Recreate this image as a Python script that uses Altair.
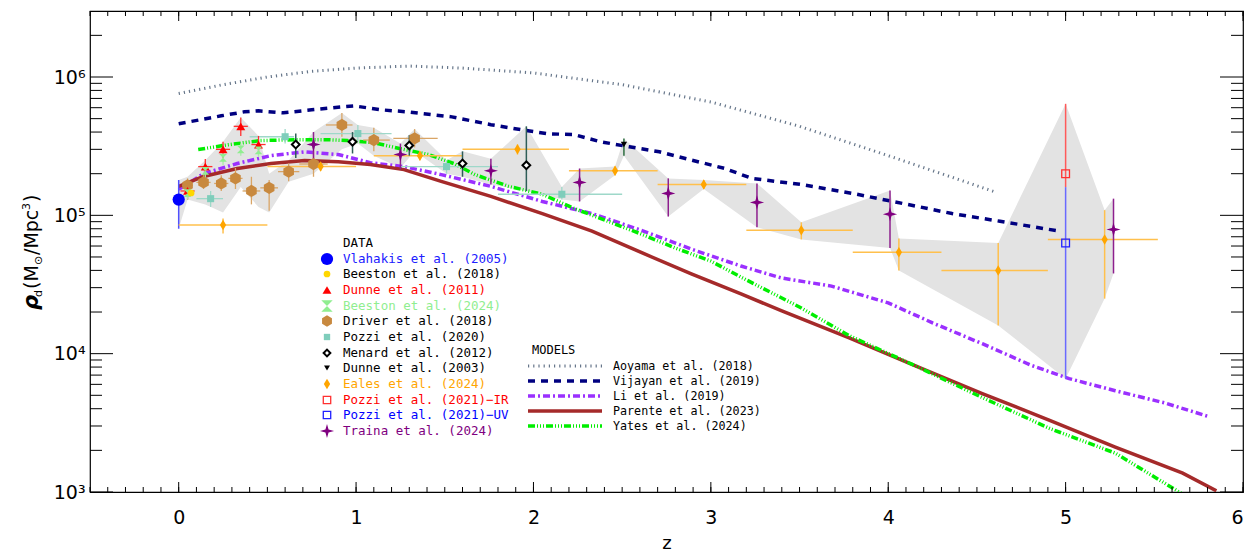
import altair as alt
import pandas as pd

# ----------------------------- model curves -----------------------------
aoyama_z   = [0.0, 0.25, 0.5, 0.75, 1.0, 1.3, 1.6, 2.0, 2.5, 3.0, 3.5, 4.0, 4.3, 4.6]
aoyama_rho = [7.6e5, 8.8e5, 1.0e6, 1.1e6, 1.16e6, 1.2e6, 1.16e6, 1.07e6, 8.8e5, 6.6e5, 4.4e5, 2.7e5, 2.0e5, 1.48e5]

vijayan_z   = [0.0, 0.24, 0.37, 0.45, 0.59, 0.75, 0.92, 0.99, 1.14, 1.29, 1.54, 1.76, 1.93, 2.08,
               2.23, 2.38, 2.54, 2.71, 2.88, 3.08, 3.23, 3.51, 3.80, 4.08, 4.36, 4.63, 4.97]
vijayan_rho = [4.59e5, 5.24e5, 5.6e5, 5.69e5, 5.51e5, 5.79e5, 6.08e5, 6.18e5, 5.79e5, 5.6e5, 5.15e5,
               4.52e5, 4.16e5, 3.89e5, 3.83e5, 3.4e5, 3.13e5, 2.88e5, 2.53e5, 2.18e5, 1.85e5, 1.67e5,
               1.44e5, 1.22e5, 1.03e5, 9.06e4, 7.67e4]

li_z   = [0.0, 0.14, 0.33, 0.52, 0.71, 0.90, 1.08, 1.27, 1.48, 1.76, 2.05, 2.33, 2.62, 2.89, 3.17,
          3.40, 3.68, 4.00, 4.25, 4.53, 4.81, 5.02, 5.28, 5.56, 5.81]
li_rho = [1.54e5, 2.0e5, 2.37e5, 2.7e5, 2.88e5, 2.75e5, 2.4e5, 2.25e5, 1.97e5, 1.62e5, 1.26e5,
          1.03e5, 7.7e4, 5.7e4, 4.3e4, 3.52e4, 3.08e4, 2.33e4, 1.67e4, 1.18e4, 8.2e3, 6.6e3,
          5.4e3, 4.4e3, 3.5e3]

parente_z   = [0.0, 0.14, 0.33, 0.52, 0.71, 0.90, 1.08, 1.27, 1.48, 1.76, 2.05, 2.33, 2.62, 2.89,
               3.17, 3.40, 3.78, 4.15, 4.53, 4.91, 5.28, 5.66, 5.85]
parente_rho = [1.62e5, 1.91e5, 2.18e5, 2.37e5, 2.49e5, 2.44e5, 2.33e5, 2.14e5, 1.76e5, 1.37e5,
               1.03e5, 7.7e4, 5.3e4, 3.77e4, 2.7e4, 2.04e4, 1.3e4, 8.2e3, 5.15e3, 3.3e3, 2.11e3,
               1.37e3, 1.02e3]

yates_z   = [0.11, 0.28, 0.46, 0.65, 0.84, 0.95, 1.10, 1.25, 1.41, 1.55, 1.67, 1.86, 2.05, 2.23,
             2.42, 2.61, 2.80, 3.0, 3.18, 3.51, 3.78, 4.15, 4.53, 4.91, 5.28, 5.64, 5.70]
yates_rho = [2.99e5, 3.24e5, 3.47e5, 3.52e5, 3.52e5, 3.47e5, 3.35e5, 3.03e5, 2.75e5, 2.37e5,
             1.97e5, 1.62e5, 1.42e5, 1.12e5, 9.06e4, 7.3e4, 5.8e4, 4.67e4, 3.52e4, 2.14e4,
             1.35e4, 8.2e3, 4.82e3, 2.88e3, 1.91e3, 1.0e3, 9.0e2]

# ----------------------------- observations -----------------------------
vlahakis_z, vlahakis_rho, vlahakis_lo, vlahakis_hi = [0.0], [1.30e5], [8.0e4], [1.8e5]

beeston18_z, beeston18_rho = [0.07], [1.45e5]

dunne11_z   = [0.05, 0.15, 0.25, 0.35, 0.45]
dunne11_rho = [1.5e5, 2.25e5, 3.0e5, 4.4e5, 3.25e5]
dunne11_lo  = [1.3e5, 1.95e5, 2.6e5, 3.75e5, 2.8e5]
dunne11_hi  = [1.7e5, 2.55e5, 3.4e5, 5.1e5, 3.75e5]
dunne11_zlo = [0.01, 0.11, 0.21, 0.31, 0.41]
dunne11_zhi = [0.09, 0.19, 0.29, 0.39, 0.49]

beeston24_z   = [0.05, 0.15, 0.25, 0.35, 0.45]
beeston24_rho = [1.45e5, 2.1e5, 2.6e5, 3.0e5, 2.95e5]
beeston24_lo  = [1.3e5, 1.85e5, 2.3e5, 2.7e5, 2.65e5]
beeston24_hi  = [1.6e5, 2.35e5, 2.9e5, 3.3e5, 3.25e5]

driver_z   = [0.05, 0.14, 0.24, 0.32, 0.41, 0.51, 0.62, 0.76, 0.92, 1.10, 1.33]
driver_rho = [1.65e5, 1.73e5, 1.70e5, 1.85e5, 1.50e5, 1.58e5, 2.07e5, 2.35e5, 4.5e5, 3.5e5, 3.6e5]
driver_lo  = [1.5e5, 1.55e5, 1.5e5, 1.55e5, 1.2e5, 1.08e5, 1.76e5, 1.9e5, 3.7e5, 2.9e5, 3.1e5]
driver_hi  = [1.85e5, 1.95e5, 1.95e5, 2.2e5, 1.9e5, 1.8e5, 2.37e5, 2.9e5, 5.5e5, 4.3e5, 4.2e5]
driver_zlo = [0.02, 0.10, 0.20, 0.28, 0.36, 0.46, 0.56, 0.68, 0.83, 1.04, 1.21]
driver_zhi = [0.08, 0.18, 0.28, 0.36, 0.46, 0.56, 0.68, 0.84, 0.98, 1.19, 1.46]

pozzi20_z   = [0.18, 0.60, 1.01, 1.51, 2.16]
pozzi20_rho = [1.32e5, 3.7e5, 3.9e5, 2.25e5, 1.42e5]
pozzi20_lo  = [1.15e5, 3.3e5, 3.4e5, 2.0e5, 1.3e5]
pozzi20_hi  = [1.5e5, 4.2e5, 4.5e5, 2.5e5, 1.6e5]
pozzi20_zlo = [0.10, 0.40, 0.80, 1.25, 1.80]
pozzi20_zhi = [0.25, 0.65, 1.20, 1.80, 2.50]

menard_z   = [0.66, 0.98, 1.30, 1.60, 1.96]
menard_rho = [3.25e5, 3.4e5, 3.2e5, 2.37e5, 2.3e5]
menard_lo  = [2.6e5, 2.8e5, 2.7e5, 1.9e5, 1.5e5]
menard_hi  = [3.9e5, 4.0e5, 3.8e5, 2.9e5, 4.4e5]

dunne03_z, dunne03_rho, dunne03_lo, dunne03_hi = [2.51], [3.25e5], [2.7e5], [3.6e5]

eales_z   = [0.25, 0.80, 1.36, 1.91, 2.46, 2.96, 3.51, 4.06, 4.62, 5.22]
eales_rho = [8.5e4, 2.25e5, 2.7e5, 3.0e5, 2.1e5, 1.67e5, 7.8e4, 5.4e4, 4.0e4, 6.7e4]
eales_lo  = [7.4e4, 2.1e5, 2.5e5, 2.75e5, 1.95e5, 1.55e5, 6.7e4, 4.0e4, 1.6e4, 2.5e4]
eales_hi  = [9.5e4, 2.4e5, 2.9e5, 3.25e5, 2.25e5, 1.8e5, 8.9e4, 6.8e4, 6.3e4, 1.09e5]
eales_zlo = [0.0, 0.5, 1.1, 1.6, 2.2, 2.7, 3.2, 3.8, 4.3, 4.9]
eales_zhi = [0.5, 1.0, 1.6, 2.2, 2.7, 3.2, 3.8, 4.3, 4.9, 5.52]

pozzi21ir_z, pozzi21ir_rho, pozzi21ir_lo, pozzi21ir_hi = [5.0], [2.0e5], [1.6e5], [6.4e5]
pozzi21uv_z, pozzi21uv_rho, pozzi21uv_lo, pozzi21uv_hi = [5.0], [6.3e4], [6.6e3], [1.6e5]

traina_z   = [0.76, 1.25, 1.76, 2.26, 2.76, 3.26, 4.01, 5.27]
traina_rho = [3.25e5, 2.75e5, 2.1e5, 1.73e5, 1.44e5, 1.24e5, 1.02e5, 7.9e4]
traina_lo  = [2.5e5, 2.15e5, 1.67e5, 1.26e5, 9.8e4, 8.2e4, 5.8e4, 3.8e4]
traina_hi  = [4.0e5, 3.3e5, 2.57e5, 2.18e5, 1.85e5, 1.7e5, 1.51e5, 1.32e5]

# grey envelope of the observations
band_z  = [0.00, 0.05, 0.15, 0.25, 0.35, 0.45, 0.51, 0.62, 0.76, 0.92, 1.01, 1.10, 1.25, 1.33,
           1.51, 1.60, 1.76, 1.96, 2.16, 2.26, 2.46, 2.51, 2.76, 2.96, 3.26, 3.51, 4.01, 4.06,
           4.62, 5.00, 5.22, 5.27]
band_lo = [8.0e4, 1.3e5, 1.2e5, 1.05e5, 1.6e5, 1.15e5, 1.05e5, 1.75e5, 2.0e5, 3.0e5, 3.3e5,
           2.7e5, 2.2e5, 2.9e5, 2.0e5, 1.9e5, 1.67e5, 1.5e5, 1.3e5, 1.26e5, 1.95e5, 2.7e5,
           9.8e4, 1.55e5, 8.2e4, 6.7e4, 5.8e4, 4.0e4, 1.6e4, 6.6e3, 2.5e4, 3.8e4]
band_hi = [1.8e5, 1.9e5, 2.5e5, 3.4e5, 5.1e5, 3.75e5, 2.0e5, 2.5e5, 4.0e5, 5.5e5, 4.5e5,
           4.3e5, 3.3e5, 4.2e5, 2.5e5, 2.9e5, 2.57e5, 4.4e5, 1.6e5, 2.18e5, 2.25e5, 3.6e5,
           1.85e5, 1.8e5, 1.7e5, 8.9e4, 1.51e5, 6.8e4, 6.3e4, 6.4e5, 1.09e5, 1.32e5]

# axis ticks
x_major = [0, 1, 2, 3, 4, 5, 6]
x_minor = [round(-0.5 + 0.1 * i, 1) for i in range(66)]
y_major = [1e3, 1e4, 1e5, 1e6]
y_minor = [m * 10 ** k for k in (3, 4, 5) for m in range(2, 10)] + [2e6]

data_labels = ["Vlahakis et al. (2005)", "Beeston et al. (2018)", "Dunne et al. (2011)",
               "Beeston et al. (2024)", "Driver et al. (2018)", "Pozzi et al. (2020)",
               "Menard et al. (2012)", "Dunne et al. (2003)", "Eales et al. (2024)",
               "Pozzi et al. (2021)\u2212IR", "Pozzi et al. (2021)\u2212UV", "Traina et al. (2024)"]
model_labels = ["Aoyama et al. (2018)", "Vijayan et al. (2019)", "Li et al. (2019)",
                "Parente et al. (2023)", "Yates et al. (2024)"]

# y-axis title pieces: (text, size, bold-italic, shift across baseline, advance)
ytitle_parts = [("\u03c1", 21, True, 0, 13), ("d", 11, False, 4, 8), ("(M", 19, False, 0, 24),
                ("\u2299", 11, False, 4, 10), ("/Mpc", 19, False, 0, 45),
                ("3", 11, False, -8, 8), (")", 19, False, 0, 8)]

# ----------------------------- styling -----------------------------
W, H = 1153, 481
FONT = "DejaVu Sans"
LFONT = "DejaVu Sans Mono"
HEX = "M0,-1L0.866,-0.5L0.866,0.5L0,1L-0.866,0.5L-0.866,-0.5Z"
HOUR = "M-1,-1L1,-1L-1,1L1,1Z"
NDIA = "M0,-1L0.6,0L0,1L-0.6,0Z"
STAR = "M0,-1L0.22,-0.22L1,0L0.22,0.22L0,1L-0.22,0.22L-1,0L-0.22,-0.22Z"

xs = alt.Scale(domain=[-0.5, 6.0], nice=False, zero=False)
ys = alt.Scale(type="log", domain=[1e3, 3e6], nice=False)
XAX = alt.Axis(values=x_major, format="d", ticks=False, tickSize=0, domain=False, grid=False,
               labelFont=FONT, labelFontSize=19, labelColor="black", labelPadding=16,
               title="z", titleFont=FONT, titleFontSize=18, titleFontWeight="normal",
               titleColor="black", titlePadding=7)
YAX = alt.Axis(values=y_major, ticks=False, tickSize=0, domain=False, grid=False,
               labelExpr="datum.value >= 9e5 ? '10\u2076' : datum.value >= 9e4 ? '10\u2075' : datum.value >= 9e3 ? '10\u2074' : '10\u00b3'",
               labelFont=FONT, labelFontSize=19, labelColor="black", labelPadding=5,
               title="")


def X(f):
    return alt.X(f, type="quantitative", scale=xs, axis=XAX)


def Y(f):
    return alt.Y(f, type="quantitative", scale=ys, axis=YAX, stack=None)


def df(**cols):
    return pd.DataFrame(cols)


layers = []

# grey band
layers.append(alt.Chart(df(z=band_z, lo=band_lo, hi=band_hi)).mark_area(
    color="#E3E3E3", fill="#E3E3E3", opacity=1, fillOpacity=1, clip=True).encode(
    x=X("z"), y=Y("lo"), y2=alt.Y2("hi")))

# model lines
models = [
    (aoyama_z, aoyama_rho, "#66768A", 3.0, [1.2, 4]),
    (vijayan_z, vijayan_rho, "#000080", 3.5, [7, 6]),
    (li_z, li_rho, "#9B30FF", 3.5, [7, 3, 2, 3]),
    (parente_z, parente_rho, "#A52A2A", 3.5, None),
    (yates_z, yates_rho, "#00EE00", 3.5, [7, 2, 1, 2, 1, 2, 1, 2]),
]
for zz, rr, col, sw, dash in models:
    kw = dict(color=col, strokeWidth=sw, clip=True)
    if dash:
        kw["strokeDash"] = dash
    layers.append(alt.Chart(df(z=zz, rho=rr)).mark_line(**kw).encode(
        x=X("z"), y=Y("rho"), order="z"))


def vbar(zz, lo, hi, col, sw=1.3):
    return alt.Chart(df(z=zz, lo=lo, hi=hi)).mark_rule(color=col, strokeWidth=sw).encode(
        x=X("z"), y=Y("lo"), y2=alt.Y2("hi"))


def hbar(zlo, zhi, rr, col, sw=1.3):
    return alt.Chart(df(zlo=zlo, zhi=zhi, rho=rr)).mark_rule(color=col, strokeWidth=sw).encode(
        x=X("zlo"), x2=alt.X2("zhi"), y=Y("rho"))


def pts(zz, rr, shape, size, fill, stroke=None, sw=0.0):
    kw = dict(shape=shape, size=size, opacity=1, fillOpacity=1)
    if fill is None:
        kw.update(filled=False, fill="white", fillOpacity=0, stroke=stroke, strokeWidth=sw)
    else:
        kw.update(filled=True, fill=fill, stroke=stroke or fill, strokeWidth=sw)
    return alt.Chart(df(z=zz, rho=rr)).mark_point(**kw).encode(x=X("z"), y=Y("rho"))


# error bars
layers += [
    vbar(vlahakis_z, vlahakis_lo, vlahakis_hi, "#5050FF", 1.5),
    hbar(eales_zlo, eales_zhi, eales_rho, "#FFC04D", 1.5),
    vbar(eales_z, eales_lo, eales_hi, "#FFC04D", 1.5),
    hbar(driver_zlo, driver_zhi, driver_rho, "#D9A566", 1.3),
    vbar(driver_z, driver_lo, driver_hi, "#D9A566", 1.3),
    hbar(pozzi20_zlo, pozzi20_zhi, pozzi20_rho, "#9ED8C9", 1.3),
    vbar(pozzi20_z, pozzi20_lo, pozzi20_hi, "#9ED8C9", 1.3),
    hbar(dunne11_zlo, dunne11_zhi, dunne11_rho, "#FF3030", 1.3),
    vbar(dunne11_z, dunne11_lo, dunne11_hi, "#FF3030", 1.3),
    vbar(beeston24_z, beeston24_lo, beeston24_hi, "#A8EBA8", 1.3),
    vbar(menard_z, menard_lo, menard_hi, "#2E5E58", 1.5),
    vbar(dunne03_z, dunne03_lo, dunne03_hi, "#2E6E40", 1.5),
    vbar(pozzi21ir_z, pozzi21ir_lo, pozzi21ir_hi, "#FF5A5A", 1.5),
    vbar(pozzi21uv_z, pozzi21uv_lo, pozzi21uv_hi, "#6A6AFF", 1.5),
    vbar(traina_z, traina_lo, traina_hi, "#8E1F8E", 1.5),
]

# markers
layers += [
    pts(driver_z, driver_rho, HEX, 150, "#C8893F"),
    pts(pozzi20_z, pozzi20_rho, "square", 50, "#7FCDBB"),
    pts(eales_z, eales_rho, NDIA, 110, "#FFA500"),
    pts(dunne11_z, dunne11_rho, "triangle-up", 80, "#FF0000"),
    pts(beeston24_z, beeston24_rho, HOUR, 60, "#90EE90"),
    pts(beeston18_z, beeston18_rho, "circle", 45, "#FFD700"),
    pts(vlahakis_z, vlahakis_rho, "circle", 150, "#0000FF"),
    pts(menard_z, menard_rho, "diamond", 60, "white", "black", 2),
    pts(dunne03_z, dunne03_rho, "triangle-down", 40, "black"),
    pts(pozzi21ir_z, pozzi21ir_rho, "square", 60, None, "#FF3030", 1.3),
    pts(pozzi21uv_z, pozzi21uv_rho, "square", 60, None, "#2020FF", 1.3),
    pts(traina_z, traina_rho, STAR, 200, "#800080"),
]

# ----------------------------- legends -----------------------------
ONE = alt.Data(values=[{"a": 1}])


def text(s, x, y, col, size, font=LFONT):
    return alt.Chart(ONE).mark_text(text=s, x=x, y=y, align="left", baseline="middle",
                                    font=font, fontSize=size, color=col)


def sym(x, y, shape, size, fill, stroke=None, sw=0.0):
    kw = dict(shape=shape, size=size, x=x, y=y, opacity=1)
    if fill is None:
        kw.update(filled=False, stroke=stroke, strokeWidth=sw, fillOpacity=0)
    else:
        kw.update(filled=True, fill=fill, stroke=stroke or fill, strokeWidth=sw, fillOpacity=1)
    return alt.Chart(ONE).mark_point(**kw)


data_text_cols = ["#2020FF", "black", "#FF0000", "#90EE90", "black", "black", "black", "black",
                  "#FFA500", "#FF0000", "#0000FF", "#800080"]
data_syms = [("circle", 150, "#0000FF", None, 0), ("circle", 45, "#FFD700", None, 0),
             ("triangle-up", 80, "#FF0000", None, 0), (HOUR, 130, "#90EE90", None, 0),
             (HEX, 130, "#C8893F", None, 0), ("square", 40, "#7FCDBB", None, 0),
             ("diamond", 45, "white", "black", 2), ("triangle-down", 35, "black", None, 0),
             (NDIA, 110, "#FFA500", None, 0), ("square", 55, None, "#FF3030", 1.3),
             ("square", 55, None, "#2020FF", 1.3), (STAR, 200, "#800080", None, 0)]
row_y = [248, 263, 279, 295, 310, 326, 342, 357, 373, 389, 404, 420]
layers.append(text("DATA", 253, 232, "black", 12.5))
for lab, col, (shp, sz, fl, st, sw), yy in zip(data_labels, data_text_cols, data_syms, row_y):
    layers.append(sym(237, yy, shp, sz, fl, st, sw))
    layers.append(text(lab, 253, yy, col, 12.5))

layers.append(text("MODELS", 442, 339, "black", 12))
model_rows = [355, 370, 385, 400, 415]
for (zz, rr, col, sw, dash), lab, yy in zip(models, model_labels, model_rows):
    kw = dict(color=col, strokeWidth=sw)
    if dash:
        kw["strokeDash"] = dash
    layers.append(alt.Chart(ONE).mark_rule(**kw).encode(
        x=alt.value(438), x2=alt.value(512), y=alt.value(yy)))
    layers.append(text(lab, 523, yy, "black", 11.7))

# y-axis title built from pieces (rotated, reading upwards)
pos = 241 + 58
for s, size, bi, shift, adv in ytitle_parts:
    kw = dict(text=s, x=-52 + shift, y=pos, angle=270, align="left", baseline="alphabetic",
              font=FONT, fontSize=size, color="black")
    if bi:
        kw.update(fontStyle="italic", fontWeight="bold")
    layers.append(alt.Chart(ONE).mark_text(**kw))
    pos -= adv

# ----------------------------- inward ticks -----------------------------
def yticks(vals, length):
    d = df(v=vals)
    return [alt.Chart(d).mark_rule(color="black", strokeWidth=1).encode(
                y=Y("v"), x=alt.value(0), x2=alt.value(length)),
            alt.Chart(d).mark_rule(color="black", strokeWidth=1).encode(
                y=Y("v"), x=alt.value(W), x2=alt.value(W - length))]


def xticks(vals, length):
    d = df(v=vals)
    return [alt.Chart(d).mark_rule(color="black", strokeWidth=1).encode(
                x=X("v"), y=alt.value(H), y2=alt.value(H - length)),
            alt.Chart(d).mark_rule(color="black", strokeWidth=1).encode(
                x=X("v"), y=alt.value(0), y2=alt.value(length))]


layers += yticks(y_major, 23) + yticks(y_minor, 12) + xticks(x_major, 10) + xticks(x_minor, 5)

chart = alt.layer(*layers).properties(
    width=W, height=H,
    padding={"left": 90, "top": 11, "right": 16, "bottom": 62},
    autosize=alt.AutoSizeParams(type="none"),
    background="white",
).configure_view(stroke="black", strokeWidth=1.2)

chart.save("out.html", embed_options={"renderer": "svg", "actions": False})
